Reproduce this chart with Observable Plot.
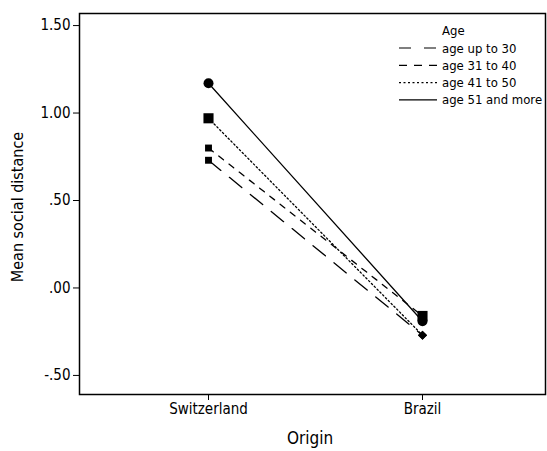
<!DOCTYPE html>
<html>
<head>
<meta charset="utf-8">
<script src="https://cdn.jsdelivr.net/npm/d3@7"></script>
<script src="https://cdn.jsdelivr.net/npm/@observablehq/plot@0.6"></script>
<style>
  html, body { margin: 0; padding: 0; background: #fff; }
  svg { display: block; }
</style>
</head>
<body>
<div id="chart"></div>
<script>
// ---- data ----
const origins = ["Switzerland", "Brazil"];
const ageGroups = ["age up to 30", "age 31 to 40", "age 41 to 50", "age 51 and more"];
const upTo30 = [0.73, -0.27];
const age31to40 = [0.80, -0.16];
const age41to50 = [0.97, -0.27];
const age51plus = [1.17, -0.19];
const yTicks = [-0.5, 0, 0.5, 1.0, 1.5];
const legendTitle = "Age";
const xTitle = "Origin";
const yTitle = "Mean social distance";

// ---- styles ----
const FONT = "'Liberation Sans Narrow', 'Arial Narrow', 'DejaVu Sans Condensed', sans-serif";
const dashes = {
  "age up to 30": "16,11",
  "age 31 to 40": "6,7",
  "age 41 to 50": "1.5,2.5",
  "age 51 and more": null
};
const legendDashes = {
  "age up to 30": "12,13",
  "age 31 to 40": "8,7",
  "age 41 to 50": "2,2.5",
  "age 51 and more": null
};
// marker at [Switzerland, Brazil] for each group
const markers = {
  "age up to 30": ["smallSquare", "diamond"],
  "age 31 to 40": ["smallSquare", "bigSquare"],
  "age 41 to 50": ["bigSquare", "diamond"],
  "age 51 and more": ["circle", "circle"]
};
const markerStyle = {
  smallSquare: {symbol: "square", r: 3.9},
  bigSquare: {symbol: "square", r: 5.7},
  diamond: {symbol: "diamond2", r: 4.1},
  circle: {symbol: "circle", r: 5}
};

const seriesValues = [upTo30, age31to40, age41to50, age51plus];
const rows = [];
ageGroups.forEach((g, gi) => {
  origins.forEach((o, oi) => {
    rows.push({group: g, origin: o, value: seriesValues[gi][oi], marker: markers[g][oi]});
  });
});

const fmt = v => {
  const s = Math.abs(v).toFixed(2);
  const t = Math.abs(v) < 1 ? s.slice(1) : s;
  return (v < 0 ? "-" : "") + t;
};

const W = 547, H = 451;
const mL = 79, mR = 2, mT = 13, mB = 57;

const marks = [];
ageGroups.forEach(g => {
  marks.push(Plot.line(rows.filter(d => d.group === g), {
    x: "origin", y: "value", stroke: "black", strokeWidth: 1.3,
    strokeDasharray: dashes[g] || undefined
  }));
});
Object.keys(markerStyle).forEach(k => {
  const ms = markerStyle[k];
  marks.push(Plot.dot(rows.filter(d => d.marker === k), {
    x: "origin", y: "value", symbol: () => ms.symbol, r: ms.r, fill: "black", stroke: "none"
  }));
});

const plot = Plot.plot({
  width: W, height: H,
  marginLeft: mL, marginRight: mR, marginTop: mT, marginBottom: mB,
  style: {fontFamily: FONT, fontSize: "15px", color: "#000", background: "#fff"},
  x: {type: "point", domain: origins, range: [208, 422], padding: 0, label: null},
  y: {domain: [-0.609, 1.569], label: null},
  symbol: {type: "identity"},
  marks: [
    Plot.axisY({ticks: yTicks, tickFormat: fmt, tickSize: 6, tickPadding: 3, label: null, fontSize: 15}),
    Plot.axisX({tickSize: 6, tickPadding: 3, label: null, fontSize: 15}),
    ...marks,
    Plot.frame({stroke: "black", strokeWidth: 1.5})
  ]
});

const svg = d3.select(plot);
// axis titles
svg.append("text")
  .attr("x", 310).attr("y", 444)
  .attr("text-anchor", "middle")
  .style("font-family", FONT).style("font-size", "17px")
  .text(xTitle);
svg.append("text")
  .attr("transform", `translate(23,207) rotate(-90)`)
  .attr("text-anchor", "middle")
  .style("font-family", FONT).style("font-size", "16px")
  .text(yTitle);

// legend
const lg = svg.append("g").style("font-family", FONT).style("font-size", "13px")
  .attr("text-anchor", "start");
lg.append("text").attr("x", 442).attr("y", 35).attr("text-anchor", "start").text(legendTitle);
ageGroups.forEach((g, i) => {
  const y = 48 + i * 17.3;
  lg.append("line")
    .attr("x1", 399).attr("x2", 437).attr("y1", y).attr("y2", y)
    .attr("stroke", "black").attr("stroke-width", 1.2)
    .attr("stroke-dasharray", legendDashes[g]);
  lg.append("text").attr("x", 442).attr("y", y + 4.5).attr("text-anchor", "start").text(g);
});

document.getElementById("chart").appendChild(plot);
</script>
</body>
</html>
